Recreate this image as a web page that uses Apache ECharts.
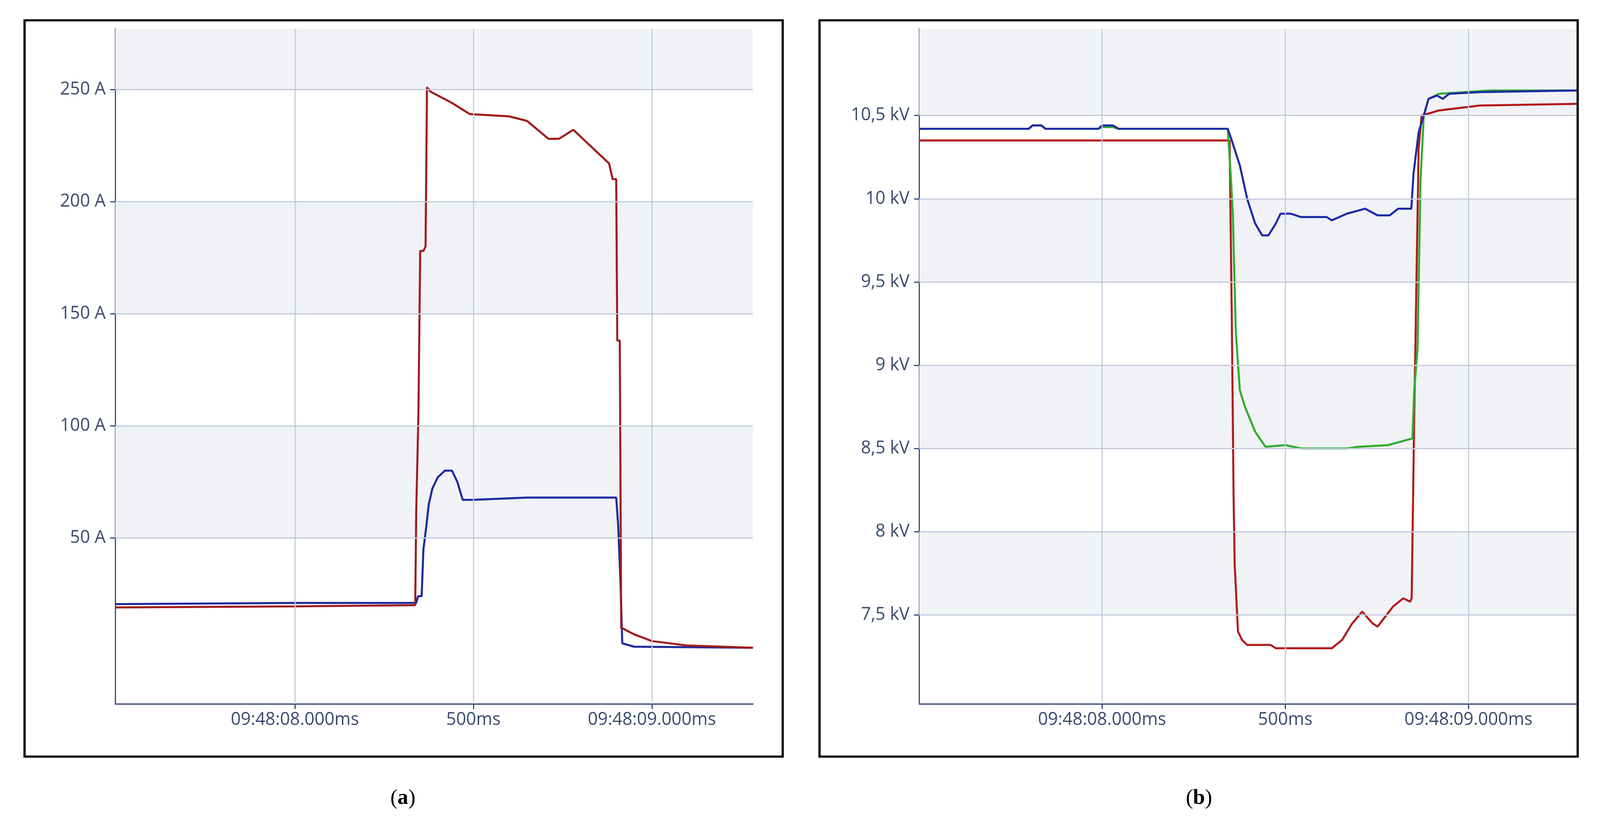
<!DOCTYPE html>
<html>
<head>
<meta charset="utf-8">
<script src="https://cdn.jsdelivr.net/npm/echarts@6/dist/echarts.min.js"></script>
<style>html,body{margin:0;background:#fff;overflow:hidden}#chart{width:100vw;height:100vh}</style>
</head>
<body>
<div id="chart"></div>
<script>
// x values are ms relative to 09:48:08.000
const xTicks = [0, 500, 1000];
const xTickLabels = ['09:48:08.000ms', '500ms', '09:48:09.000ms'];

// (a) currents, A
const currentTicks = [50, 100, 150, 200, 250];
const currentRed = [[-503,19],[0,19.5],[337,20],[340,63],[346,105],[351,178],[360,178],[366,180],[370,251],[380,249],[440,244],[470,241],[490,239],[600,238],[650,236],[680,232],[710,228],[740,228],[780,232],[820,226],[860,220],[880,217],[890,210],[900,210],[903,138],[910,138],[914,10],[950,7],[1000,4],[1100,2],[1283,1]];
const currentBlue = [[-503,20.5],[0,21],[340,21],[345,24],[355,24],[360,45],[368,55],[375,65],[385,72],[400,77],[420,80],[440,80],[455,75],[470,67],[500,67],[650,68],[900,68],[905,57],[912,30],[917,3],[950,1.5],[1283,1]];

// (b) voltages, kV
const voltTicks = [7.5, 8, 8.5, 9, 9.5, 10, 10.5];
const voltBlue = [[-499,10.42],[-200,10.42],[-190,10.44],[-165,10.44],[-155,10.42],[-10,10.42],[0,10.44],[30,10.44],[45,10.42],[343,10.42],[354,10.35],[376,10.2],[396,10.0],[418,9.85],[437,9.78],[454,9.78],[474,9.85],[487,9.91],[515,9.91],[543,9.89],[613,9.89],[627,9.87],[668,9.91],[718,9.94],[752,9.9],[785,9.9],[808,9.94],[844,9.94],[850,10.15],[864,10.4],[878,10.5],[891,10.6],[914,10.62],[930,10.6],[947,10.63],[1031,10.64],[1295,10.65]];
const voltGreen = [[-499,10.42],[-200,10.42],[-190,10.44],[-165,10.44],[-155,10.42],[-10,10.42],[0,10.43],[30,10.43],[45,10.42],[343,10.42],[351,10.15],[357,9.9],[365,9.2],[376,8.85],[390,8.75],[418,8.6],[446,8.51],[501,8.52],[543,8.5],[668,8.5],[700,8.51],[780,8.52],[847,8.56],[852,8.85],[861,9.1],[869,10.1],[878,10.5],[891,10.6],[919,10.63],[1059,10.65],[1295,10.65]];
const voltRed = [[-499,10.35],[348,10.35],[354,9.3],[359,8.2],[362,7.8],[371,7.4],[382,7.35],[396,7.32],[460,7.32],[474,7.3],[627,7.3],[655,7.35],[683,7.45],[710,7.52],[738,7.45],[752,7.43],[794,7.55],[822,7.6],[841,7.58],[845,7.6],[852,8.7],[858,9.5],[864,10.3],[872,10.5],[919,10.53],[1031,10.56],[1295,10.57]];

const grey = '#f0f2f6';
const axisColor = '#2b3f75';
const labelColor = '#3a4a6e';
const gridColor = '#c2cadb';

const chart = echarts.init(document.getElementById('chart'));
// layout was measured on a 4301x2107 page; scale to the real size
const sx = chart.getWidth() / 4301, sy = chart.getHeight() / 2107, s = Math.min(sx, sy);

function xAxisFor(idx, min, max) {
    return {
        type: 'value', gridIndex: idx, min: min, max: max,
        axisLine: { onZero: false, lineStyle: { color: axisColor, width: 3 * s } },
        axisTick: { customValues: xTicks, length: 14 * s, lineStyle: { color: axisColor, width: 3 * s } },
        axisLabel: {
            customValues: xTicks, margin: 20 * s, color: labelColor,
            fontFamily: 'Open Sans', fontSize: 47 * s,
            formatter: function (v) { return xTickLabels[xTicks.indexOf(v)]; }
        },
        splitLine: { show: false }
    };
}
function yAxisFor(idx, min, max, ticks, unit) {
    return {
        type: 'value', gridIndex: idx, min: min, max: max,
        axisLine: { show: true, onZero: false, lineStyle: { color: axisColor, width: 3 * s } },
        axisTick: { show: true, customValues: ticks, length: 14 * s, lineStyle: { color: axisColor, width: 3 * s } },
        axisLabel: {
            customValues: ticks, margin: 26 * s, color: labelColor,
            fontFamily: 'Open Sans', fontSize: 47 * s,
            formatter: function (v) { return String(v).replace('.', ',') + ' ' + unit; }
        },
        splitLine: { show: false }
    };
}
// grey bands and grid lines drawn from tick values
function bands(ranges) {
    return { silent: true, itemStyle: { color: grey }, data: ranges.map(r => [{ yAxis: r[0] }, { yAxis: r[1] }]) };
}
function gridLines(yTicks) {
    return {
        silent: true, symbol: 'none', label: { show: false },
        lineStyle: { color: gridColor, width: 3 * s, type: 'solid' },
        data: yTicks.map(v => ({ yAxis: v })).concat(xTicks.map(v => ({ xAxis: v })))
    };
}
function line(idx, data, color, extra) {
    return Object.assign({
        type: 'line', xAxisIndex: idx, yAxisIndex: idx, data: data,
        symbol: 'none', lineStyle: { color: color, width: 5.5 * s }, animation: false, z: 3
    }, extra || {});
}
function caption(x, letter) {
    return { type: 'text', x: x * sx, y: 2044 * sy, style: { text: '{n|(}{b|' + letter + '}{n|)}', align: 'center', verticalAlign: 'middle',
        rich: { n: { fontFamily: 'Liberation Serif', fontSize: 58 * s }, b: { fontFamily: 'Liberation Serif', fontSize: 58 * s, fontWeight: 'bold' } } } };
}

chart.setOption({
    animation: false,
    grid: [
        { left: 310 * sx, top: 74 * sy, right: 2277 * sx, bottom: 305 * sy },
        { left: 2471 * sx, top: 74 * sy, right: 63 * sx, bottom: 305 * sy }
    ],
    xAxis: [xAxisFor(0, -503, 1283), xAxisFor(1, -499, 1295)],
    yAxis: [yAxisFor(0, -24, 277, currentTicks, 'A'), yAxisFor(1, 6.966, 11.02, voltTicks, 'kV')],
    series: [
        line(0, currentBlue, '#1f2a9e', {
            markArea: bands([[250, 277], [150, 200], [50, 100]]),
            markLine: gridLines(currentTicks)
        }),
        line(0, currentRed, '#a01c1c'),
        line(1, voltRed, '#b01c1c', {
            markArea: bands([[10.5, 11.02], [9.5, 10], [8.5, 9], [7.5, 8]]),
            markLine: gridLines(voltTicks)
        }),
        line(1, voltGreen, '#2eae2e'),
        line(1, voltBlue, '#1f2aa8')
    ],
    graphic: [
        { type: 'rect', shape: { x: 66 * sx, y: 52 * sy, width: 2038 * sx, height: 1885 * sy }, style: { fill: 'none', stroke: '#000', lineWidth: 6 * s } },
        { type: 'rect', shape: { x: 2203 * sx, y: 52 * sy, width: 2038 * sx, height: 1885 * sy }, style: { fill: 'none', stroke: '#000', lineWidth: 6 * s } },
        caption(1083, 'a'),
        caption(3223, 'b')
    ]
});
</script>
</body>
</html>
